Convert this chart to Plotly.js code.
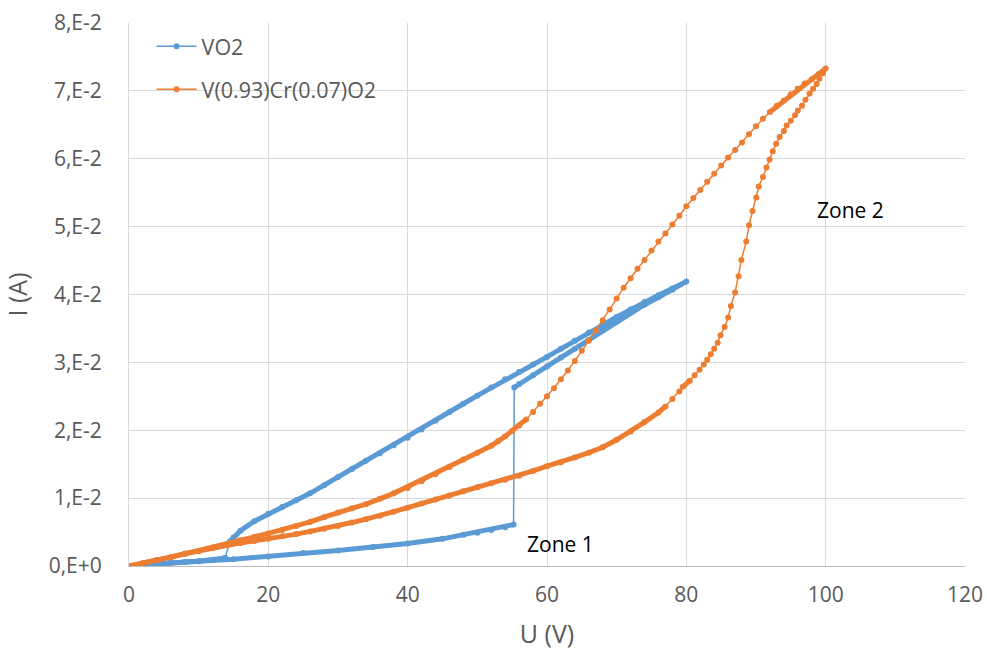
<!DOCTYPE html>
<html>
<head>
<meta charset="utf-8">
<script src="https://cdn.plot.ly/plotly-3.0.1.min.js"></script>
<style>html,body{margin:0;padding:0;background:#fff;}#chart{width:987px;height:652px;}</style>
</head>
<body>
<div id="chart"></div>
<script>
// VO2: forward (low branch), jump, forward (high branch), return (upper), drop, return to 0
const vo2U = [0, 5, 10, 15, 20, 25, 30, 35, 40, 45, 48, 50, 52, 54, 55.2,
  55.3, 56, 58, 60, 62, 64, 66, 68, 70, 72, 74, 76, 78, 80,
  78, 76, 74, 72, 70, 68, 66, 64, 62, 60, 58, 56, 54, 52, 50, 48, 46, 44, 42, 40,
  38, 36, 34, 32, 30, 28, 26, 24, 22, 20, 18, 16, 15, 14.5,
  13.8, 12, 10, 8, 6, 4, 2, 0];
const vo2I = [0, 0.0004, 0.0007, 0.0010, 0.0014, 0.0019, 0.0023, 0.0028, 0.0033, 0.0040, 0.0046, 0.0049, 0.0053, 0.0057, 0.0061,
  0.0263, 0.0268, 0.0281, 0.0294, 0.0307, 0.0320, 0.0333, 0.0347, 0.0360, 0.0373, 0.0385, 0.0396, 0.0407, 0.0419,
  0.0409, 0.0399, 0.0389, 0.0378, 0.0367, 0.0355, 0.0344, 0.0332, 0.0320, 0.0308, 0.0297, 0.0286, 0.0275, 0.0263, 0.0251, 0.0239, 0.0227, 0.0214, 0.0201, 0.0189,
  0.0178, 0.0166, 0.0155, 0.0143, 0.0131, 0.0119, 0.0107, 0.0097, 0.0087, 0.0077, 0.0066, 0.0052, 0.0042, 0.0036,
  0.0012, 0.0009, 0.0007, 0.0006, 0.0005, 0.0003, 0.0002, 0];

// V(0.93)Cr(0.07)O2: forward (lower branch up to 100 V), then return (upper branch)
const vcrU = [0, 2, 4, 6, 8, 10, 12, 14, 16, 18, 20, 22, 24, 26, 28, 30, 32, 34, 36, 38, 40,
  42, 44, 46, 48, 50, 52, 54, 56, 58, 60, 62, 64, 66, 68, 70, 72, 74, 76, 77, 78, 79, 79.5,
  80.5, 81.2, 81.9, 82.5, 83.0, 83.5, 84.0, 84.5, 84.9, 85.5, 86.0, 86.4, 87.0, 87.5, 87.9, 88.6,
  89.0, 89.5, 90.05, 90.4, 91.0, 91.5, 91.96, 92.4, 92.9, 93.4, 94.0, 94.4, 95.0, 95.6, 96.0,
  96.6, 97.1, 97.7, 98.2, 98.7, 99.1, 99.6, 100,
  99, 98, 97, 96, 95, 94, 93, 92, 91, 90, 89, 88, 87, 86, 85, 84, 83, 82, 81, 80,
  79, 78, 77, 76, 75, 74, 73, 72, 71, 70, 69, 68, 67, 66, 65, 64, 63, 62, 61, 60,
  59, 58, 57, 56, 55, 54, 53, 52, 50, 48, 46, 44, 42, 40, 38, 36, 34, 32, 30,
  28, 26, 24, 22, 20, 18, 16, 14, 12, 10, 8, 6, 4, 2, 0];
const vcrI = [0, 0.0004, 0.0009, 0.0013, 0.0018, 0.0022, 0.0027, 0.0031, 0.0034, 0.0037, 0.0040, 0.0044, 0.0047, 0.0051, 0.0055, 0.0059, 0.0064, 0.0069, 0.0074, 0.0080, 0.0086,
  0.0092, 0.0098, 0.0104, 0.0110, 0.0116, 0.0122, 0.0127, 0.0133, 0.0140, 0.0147, 0.0153, 0.0160, 0.0167, 0.0175, 0.0186, 0.0198, 0.0212, 0.0226, 0.0235, 0.0246, 0.0257, 0.0264,
  0.0273, 0.0281, 0.0289, 0.0297, 0.0304, 0.0312, 0.0320, 0.0329, 0.0340, 0.0352, 0.0366, 0.0383, 0.0403, 0.0427, 0.0451, 0.0478,
  0.0502, 0.0523, 0.0543, 0.0559, 0.0573, 0.0587, 0.0599, 0.0611, 0.0622, 0.0632, 0.0641, 0.0649, 0.0656, 0.0664, 0.0671,
  0.0678, 0.0687, 0.0696, 0.0703, 0.0710, 0.0718, 0.0726, 0.0733,
  0.0725, 0.0717, 0.0711, 0.0703, 0.0695, 0.0686, 0.0678, 0.0669, 0.0659, 0.0648, 0.0636, 0.0624, 0.0613, 0.0602, 0.0590, 0.0578, 0.0566, 0.0554, 0.0542, 0.0530,
  0.0516, 0.0503, 0.0490, 0.0478, 0.0465, 0.0451, 0.0438, 0.0424, 0.0410, 0.0394, 0.0378, 0.0362, 0.0347, 0.0332, 0.0317, 0.0302, 0.0288, 0.0275, 0.0262, 0.0250,
  0.0239, 0.0227, 0.0216, 0.0207, 0.0199, 0.0191, 0.0184, 0.0177, 0.0167, 0.0157, 0.0146, 0.0135, 0.0125, 0.0115, 0.0107, 0.0099, 0.0091, 0.0085, 0.0079,
  0.0072, 0.0065, 0.0059, 0.0053, 0.0048, 0.0043, 0.0038, 0.0032, 0.0027, 0.0022, 0.0018, 0.0013, 0.0009, 0.0004, 0];

const seriesNames = ['VO2', 'V(0.93)Cr(0.07)O2'];
const seriesColors = ['#5B9BD5', '#ED7D31'];
const yTickVals = [0, 0.01, 0.02, 0.03, 0.04, 0.05, 0.06, 0.07, 0.08];
const yTickText = ['0,E+0', '1,E-2', '2,E-2', '3,E-2', '4,E-2', '5,E-2', '6,E-2', '7,E-2', '8,E-2'];
const xTickVals = [0, 20, 40, 60, 80, 100, 120];
const zoneLabels = [{text: 'Zone 1', u: 62.0, i: 0.0033}, {text: 'Zone 2', u: 103.6, i: 0.0524}];

// band underlay: thick line only where the dense points would merge (shallow segments)
function band(U, I, thr) {
  const xs = [], ys = [];
  for (let k = 0; k < U.length; k++) {
    if (k > 0) {
      const dx = Math.abs(U[k] - U[k-1]) * 6.967;
      const dy = Math.abs(I[k] - I[k-1]) * 6790;
      if (dy / Math.max(dx, 1e-6) > thr) { xs.push(null); ys.push(null); }
    }
    xs.push(U[k]); ys.push(I[k]);
  }
  return {x: xs, y: ys};
}

const FONT = 'Open Sans, sans-serif';
const b1 = band(vo2U, vo2I, 3);
const b2 = band(vcrU, vcrI, 0.9);

const traces = [
  {x: b1.x, y: b1.y, mode: 'lines', line: {color: seriesColors[0], width: 5}, showlegend: false, legendgroup: 'a', hoverinfo: 'skip', connectgaps: false},
  {x: vo2U, y: vo2I, name: seriesNames[0], mode: 'lines+markers', legendgroup: 'a',
   line: {color: seriesColors[0], width: 1.5}, marker: {color: seriesColors[0], size: 6}},
  {x: b2.x, y: b2.y, mode: 'lines', line: {color: seriesColors[1], width: 5}, showlegend: false, legendgroup: 'b', hoverinfo: 'skip', connectgaps: false},
  {x: vcrU, y: vcrI, name: seriesNames[1], mode: 'lines+markers', legendgroup: 'b',
   line: {color: seriesColors[1], width: 1.5}, marker: {color: seriesColors[1], size: 6}}
];

const layout = {
  width: 987, height: 652,
  margin: {l: 129, r: 22, t: 23, b: 86},
  paper_bgcolor: '#fff', plot_bgcolor: '#fff',
  font: {family: FONT, color: '#595959', size: 21},
  showlegend: true,
  legend: {x: 0.027, y: 0.995, xanchor: 'left', yanchor: 'top', bgcolor: 'rgba(0,0,0,0)', itemwidth: 40,
           font: {size: 21.5, color: '#595959'}, traceorder: 'grouped', tracegroupgap: 12},
  xaxis: {range: [0, 120], tickvals: xTickVals, showgrid: true, gridcolor: '#D9D9D9', gridwidth: 1,
          zeroline: false, showline: true, linecolor: '#BFBFBF', linewidth: 1, ticks: '',
          ticklabelstandoff: 10, tickfont: {size: 21, color: '#595959'},
          title: {text: 'U (V)', font: {size: 25, color: '#595959'}, standoff: 18}},
  yaxis: {range: [0, 0.08], tickvals: yTickVals, ticktext: yTickText, showgrid: true, gridcolor: '#D9D9D9', gridwidth: 1,
          zeroline: false, showline: true, linecolor: '#D9D9D9', linewidth: 1, ticks: '',
          ticklabelstandoff: 22, tickfont: {size: 21, color: '#595959'},
          title: {text: 'I (A)', font: {size: 25, color: '#595959'}, standoff: 18}},
  annotations: zoneLabels.map(z => ({x: z.u, y: z.i, xref: 'x', yref: 'y', text: z.text, showarrow: false,
    font: {family: FONT, size: 21, color: '#000'}}))
};

Plotly.newPlot('chart', traces, layout, {displayModeBar: false, staticPlot: true});
</script>
</body>
</html>
